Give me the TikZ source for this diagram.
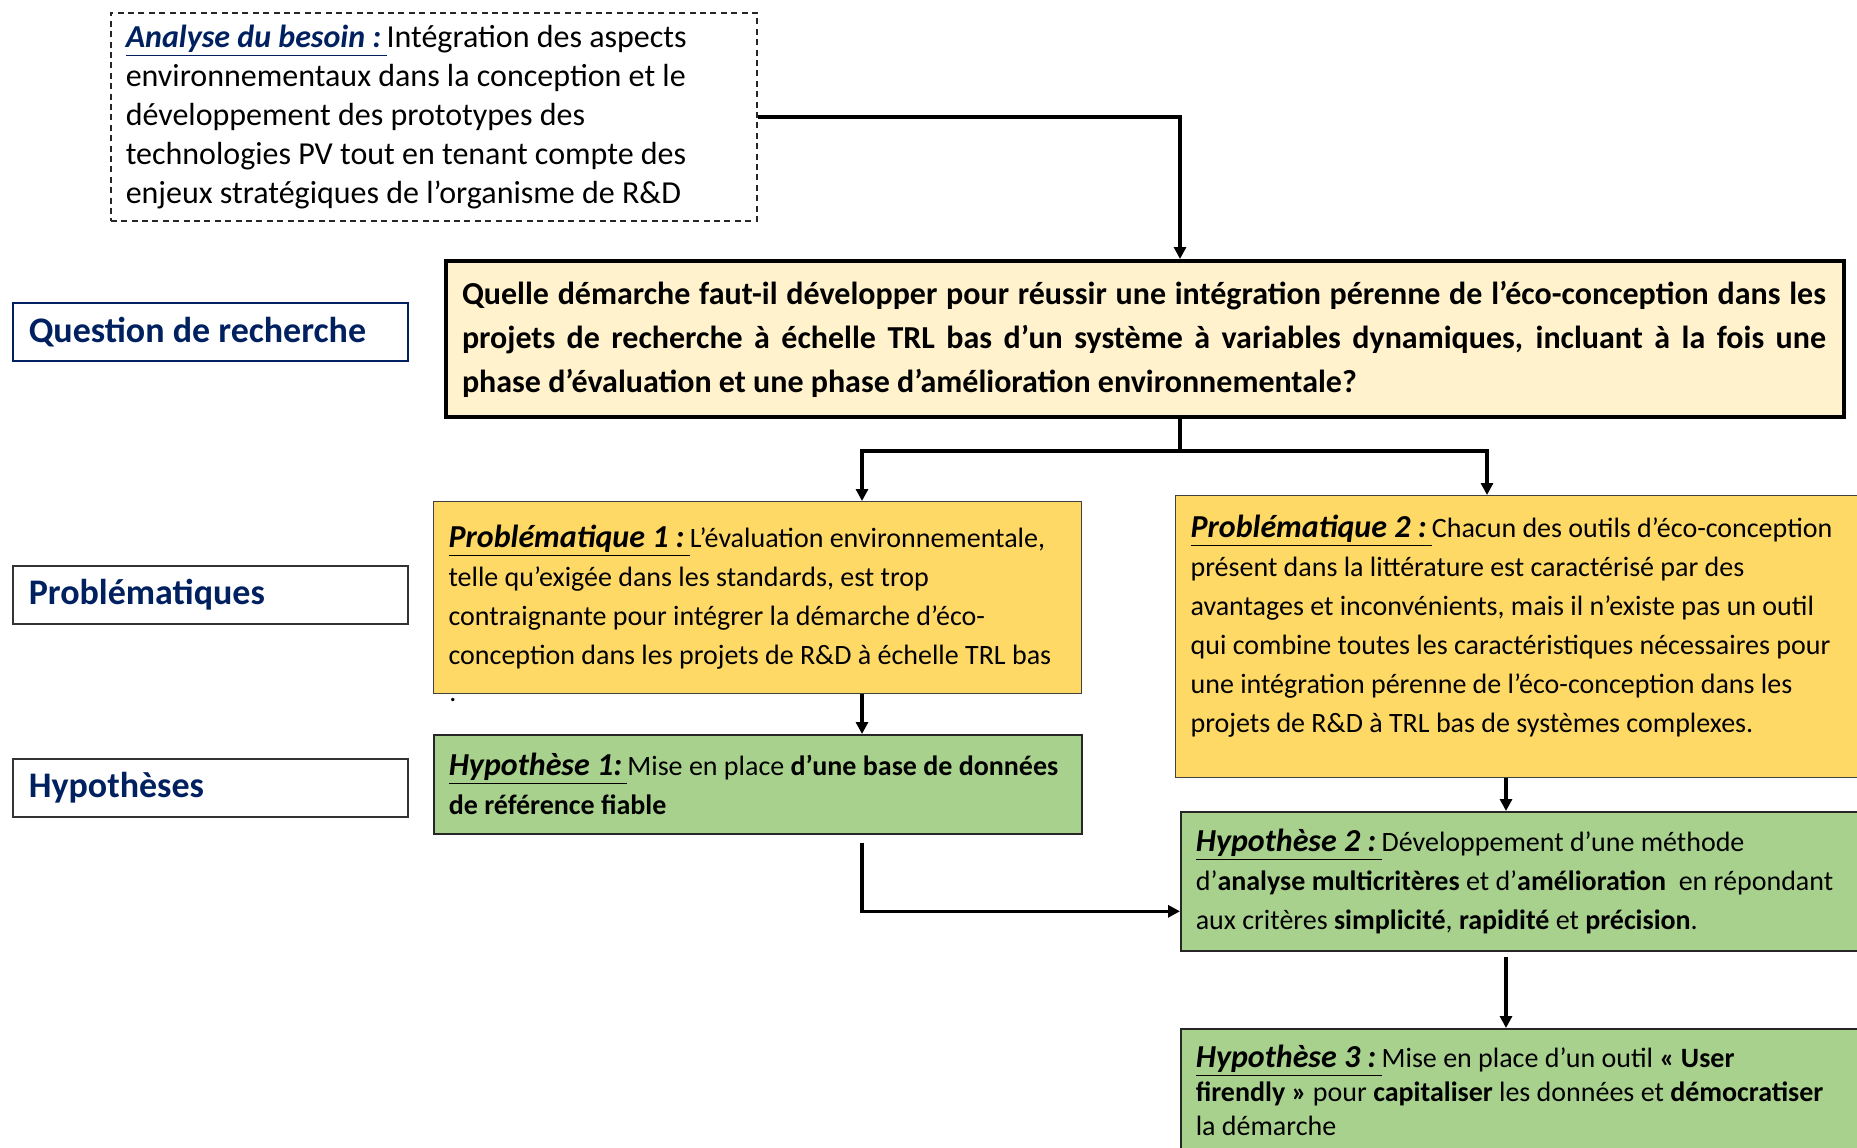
\documentclass[tikz,border=0pt]{standalone}
\usepackage{fontspec}
\setmainfont{Carlito}
\usetikzlibrary{arrows.meta}
\definecolor{navy}{HTML}{002060}
\definecolor{questfill}{HTML}{FFF2CC}
\definecolor{probfill}{HTML}{FFD966}
\definecolor{hypfill}{HTML}{A9D18E}
\newcommand{\headul}[1]{\underline{\fontsize{16}{19.5}\selectfont\textbf{\textit{#1}}\,}}
\begin{document}
\begin{tikzpicture}[x=0.5pt, y=-0.5pt,
    box/.style={draw, anchor=north west, inner xsep=7.5pt, inner ysep=0pt, align=left,
      execute at begin node={\spaceskip=0pt\xspaceskip=0pt\relax}},
    labelbox/.style={box, line width=0.8pt, minimum width=197.5pt, minimum height=29pt, text width=181.5pt,
      inner xsep=8pt, font=\fontsize{18}{22}\selectfont\bfseries, text=navy},
    probbox/.style={box, fill=probfill, draw=black!75, line width=0.6pt, font=\fontsize{14}{19.5}\selectfont},
    hypbox/.style={box, fill=hypfill, draw=black!85, line width=0.8pt, font=\fontsize{14}{19.5}\selectfont},
    link/.style={line width=1.8pt},
    arr/.style={link, -{Triangle[length=6pt, width=6pt]}}]
  \useasboundingbox (0,0) rectangle (1857,1147);

  \node[box, draw=black!85, line width=0.75pt, dash pattern=on 3pt off 2.2pt, minimum width=323pt, minimum height=104pt,
    text width=308pt, font=\fontsize{16}{19.5}\selectfont] (besoin) at (110,12)
    {\textcolor{navy}{\headul{Analyse du besoin :}}Intégration des aspects\\
     environnementaux dans la conception et le\\
     développement des prototypes des\\
     technologies PV tout en tenant compte des\\
     enjeux stratégiques de l’organisme de R\&D};

  \node[box, fill=questfill, line width=2pt, minimum width=699pt, minimum height=78pt, text width=683pt,
    inner xsep=8pt, font=\fontsize{16}{22}\selectfont\bfseries] (question) at (444,259)
    {\makebox[682pt][s]{Quelle démarche faut-il développer pour réussir une intégration pérenne de l’éco-conception dans les}\\
     \makebox[682pt][s]{projets de recherche à échelle TRL bas d’un système à variables dynamiques, incluant à la fois une}\\
     phase d’évaluation et une phase d’amélioration environnementale?};

  \foreach \name/\ypos/\txt/\col in {lblq/302/Question de recherche/navy, lblp/565/Problématiques/black!80, lblh/758/Hypothèses/black!80}
    \node[labelbox, draw=\col] (\name) at (12,\ypos) {\txt};

  \node[probbox, minimum width=324pt, minimum height=96pt, text width=309pt] (prob1) at (433,501)
    {\headul{Problématique 1 :}L’évaluation environnementale,\\
     telle qu’exigée dans les standards, est trop\\
     contraignante pour intégrer la démarche d’éco-\\
     conception dans les projets de R\&D à échelle TRL bas};
  \node[anchor=south west, inner sep=0pt, font=\fontsize{14}{16}\selectfont] (straydot) at (449,702) {.};

  \node[hypbox, minimum width=324pt, minimum height=49.5pt, text width=309pt] (hyp1) at (433,734)
    {\headul{Hypothèse 1:}Mise en place \textbf{d’une base de données}\\
     \textbf{de référence fiable}};

  \node[probbox, minimum width=347pt, minimum height=141pt, text width=332pt] (prob2) at (1175,495)
    {\headul{Problématique 2 :}Chacun des outils d’éco-conception\\
     présent dans la littérature est caractérisé par des\\
     avantages et inconvénients, mais il n’existe pas un outil\\
     qui combine toutes les caractéristiques nécessaires pour\\
     une intégration pérenne de l’éco-conception dans les\\
     projets de R\&D à TRL bas de systèmes complexes.\\[-6.5pt]\mbox{}};

  \node[hypbox, minimum width=345pt, minimum height=69.5pt, text width=330pt] (hyp2) at (1180,811)
    {\headul{Hypothèse 2 :}Développement d’une méthode\\
     d’\textbf{analyse multicritères} et d’\textbf{amélioration}\ \ en répondant\\
     aux critères \textbf{simplicité}, \textbf{rapidité} et \textbf{précision}.};

  \node[hypbox, minimum width=345pt, minimum height=62pt, text width=330pt, font=\fontsize{14}{17}\selectfont] (hyp3) at (1180,1028)
    {\headul{Hypothèse 3 :}Mise en place d’un outil \textbf{« User}\\
     \textbf{firendly »} pour \textbf{capitaliser} les données et \textbf{démocratiser}\\
     la démarche};

  \coordinate (mid) at (1180,451);
  \coordinate (colL) at (862,0);
  \coordinate (colR) at (1487,0);
  \coordinate (colH) at (1506,0);

  \draw[arr] (besoin.east) -| (question.north -| mid);
  \draw[link] (question.south -| mid) -- (mid);
  \draw[arr] (mid) -| (prob1.north -| colL);
  \draw[arr] (mid) -| (prob2.north -| colR);
  \draw[arr] (prob1.south -| colL) -- (hyp1.north -| colL);
  \draw[arr] ([yshift=-4pt]hyp1.south -| colL) |- ([yshift=-15pt]hyp2.west);
  \draw[arr] (prob2.south -| colH) -- (hyp2.north -| colH);
  \draw[arr] ([yshift=-2.5pt]hyp2.south -| colH) -- (hyp3.north -| colH);
\end{tikzpicture}
\end{document}
